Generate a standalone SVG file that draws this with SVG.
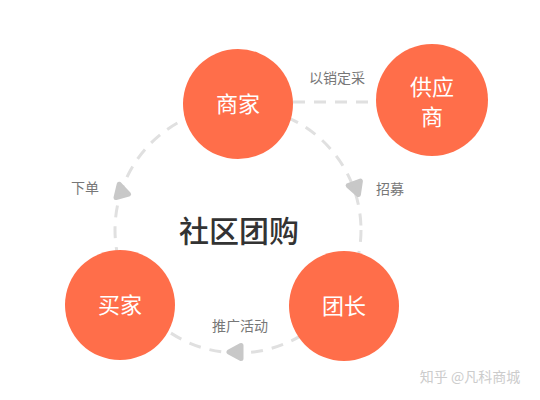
<svg xmlns="http://www.w3.org/2000/svg" width="540" height="400" viewBox="0 0 540 400">
<style>
.node{fill:#FF6E4A}
.nt{fill:#fff;font-family:"Noto Sans CJK SC","Noto Sans",sans-serif;font-size:22px;text-anchor:middle}
.lbl{fill:#777;font-family:"Noto Sans CJK SC","Noto Sans",sans-serif;font-size:14px;text-anchor:middle}
.dash{fill:none;stroke:#e0e0e0;stroke-width:3;stroke-dasharray:12 9}
.arr{fill:#c8c8c8;stroke:#c8c8c8;stroke-width:5;stroke-linejoin:round}
</style>
<rect width="540" height="400" fill="#fff"/>
<g id="connectors">
<circle class="dash" cx="238" cy="230" r="123"/>
<line class="dash" x1="293" y1="102" x2="377" y2="102"/>
<polygon class="arr" transform="translate(121,191) rotate(-15)" points="0,-7 6.5,5 -6.5,5"/>
<polygon class="arr" transform="translate(356,188) rotate(160)" points="0,-7 6.5,5 -6.5,5"/>
<polygon class="arr" transform="translate(236,352) rotate(-90)" points="0,-7 6.5,5 -6.5,5"/>
</g>
<g id="label-cg"><text class="lbl" x="337" y="83">以销定采</text></g>
<g id="label-xd"><text class="lbl" x="85" y="193">下单</text></g>
<g id="label-zm"><text class="lbl" x="390" y="194">招募</text></g>
<g id="label-tg"><text class="lbl" x="240" y="331">推广活动</text></g>
<g id="center"><text x="239" y="242" fill="#333" font-family="'Noto Sans CJK SC','Noto Sans',sans-serif" font-size="30" font-weight="500" text-anchor="middle">社区团购</text></g>
<g id="shangjia"><circle class="node" cx="238" cy="104" r="55"/><text class="nt" x="238" y="112">商家</text></g>
<g id="gongyingshang"><circle class="node" cx="432" cy="100" r="56"/><text class="nt" x="432" y="95">供应</text><text class="nt" x="432" y="125">商</text></g>
<g id="maijia"><circle class="node" cx="120" cy="305" r="55"/><text class="nt" x="120" y="313">买家</text></g>
<g id="tuanzhang"><circle class="node" cx="344" cy="306" r="55"/><text class="nt" x="344" y="314">团长</text></g>
<g id="watermark"><text x="470" y="382" fill="#ccc" font-family="'Noto Sans CJK SC','Noto Sans',sans-serif" font-size="14" text-anchor="middle">知乎 @凡科商城</text></g>
</svg>
